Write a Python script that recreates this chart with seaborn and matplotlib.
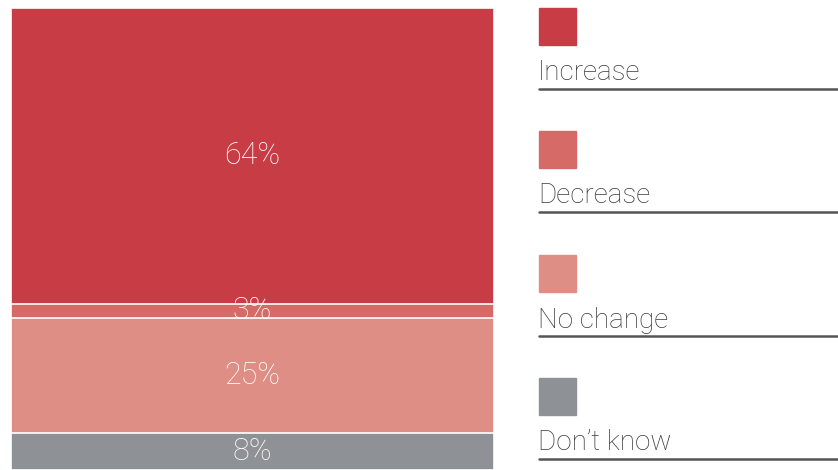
import matplotlib
matplotlib.use("Agg")
import matplotlib.pyplot as plt
import seaborn as sns
import pandas as pd
import numpy as np
from matplotlib.patches import Rectangle
from matplotlib.lines import Line2D

categories = ["Increase", "Decrease", "No change", "Don\u2019t know"]
values = [64, 3, 25, 8]
labels = ["64%", "3%", "25%", "8%"]
colors = ["#C83D45", "#D56A66", "#DF8E85", "#8E9195"]

sns.set_theme(style="white")
plt.rcParams["font.family"] = ["Roboto", "DejaVu Sans"]

W, H = 838, 470
fig = plt.figure(figsize=(W / 100, H / 100), dpi=100)
ax = fig.add_axes([11 / W, 0, (494 - 11) / W, (470 - 8) / H])

# stacking from the bottom: Don't know, No change, Decrease, Increase
order = list(range(len(values)))[::-1]
cum = np.cumsum([values[i] for i in order])
tops = {order[k]: cum[k] for k in range(len(order))}
bottoms = {order[k]: cum[k] - values[order[k]] for k in range(len(order))}

# draw from tallest cumulative to shortest so each segment overlays
for i in sorted(tops, key=lambda j: -tops[j]):
    df = pd.DataFrame({"x": ["all"], "y": [tops[i]]})
    sns.barplot(data=df, x="x", y="y", color=colors[i], width=1.0,
                saturation=1, edgecolor="white", linewidth=1.2, ax=ax)

for i in range(len(values)):
    ax.text(0, (tops[i] + bottoms[i]) / 2, labels[i], ha="center", va="center",
            color="white", fontsize=22, fontweight="light")

ax.set_xlim(-0.5, 0.5)
ax.set_ylim(0, 100)
ax.set_axis_off()

# legend
entries_y = [8, 131, 255, 378]
for k, cat in enumerate(categories):
    y0 = entries_y[k]
    fig.patches.append(Rectangle((539 / W, 1 - (y0 + 37) / H), 37 / W, 37 / H,
                                 transform=fig.transFigure, color=colors[k]))
    fig.text(538 / W, 1 - (y0 + 65) / H, cat, ha="left", va="center",
             fontsize=20, color="#3A3A3A", fontweight="light")
    ly = 1 - (y0 + 81) / H
    fig.add_artist(Line2D([539 / W, 1.0], [ly, ly], transform=fig.transFigure,
                          color="#555555", linewidth=1.8))

fig.savefig("out.png", dpi=100)
